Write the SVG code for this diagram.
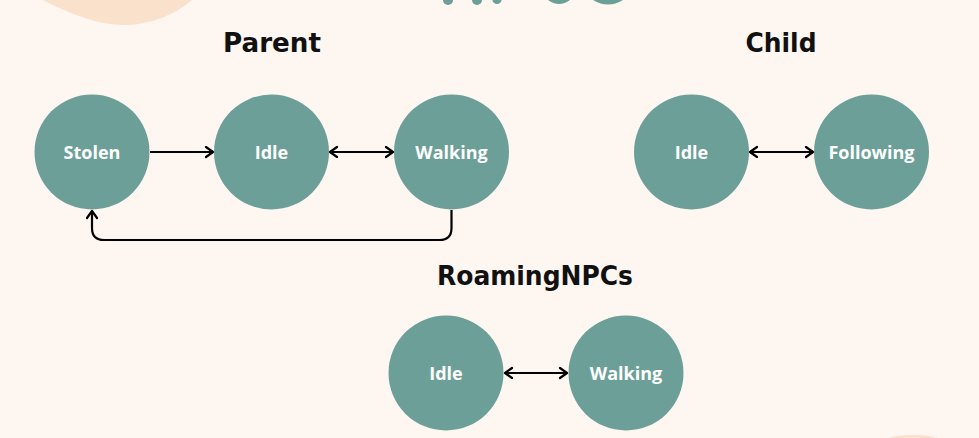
<svg xmlns="http://www.w3.org/2000/svg" width="979" height="438" viewBox="0 0 979 438">
<defs>
<style>
.node{fill:#6B9F97}
.lbl{font-family:"Open Sans","Liberation Sans",sans-serif;font-weight:700;font-size:18px;fill:#FFFFFF;text-anchor:middle}
.title{font-family:"DejaVu Sans","Liberation Sans",sans-serif;font-weight:700;font-size:27px;fill:#111111;text-anchor:middle}
.edge{fill:none;stroke:#000;stroke-width:2.2}
.deco{fill:#F9E1CB}
.frag{fill:#6B9F97}
</style>
<marker id="ah" markerUnits="userSpaceOnUse" markerWidth="12" markerHeight="14" refX="9" refY="6" orient="auto-start-reverse">
<path d="M2,1 L9,6 L2,11" fill="none" stroke="#000" stroke-width="2.2" stroke-linecap="round" stroke-linejoin="round"/>
</marker>
</defs>
<rect width="979" height="438" fill="#FEF6F1"/>
<path class="deco" d="M43,0 C70,14 100,26 127,25 C155,24 178,12 192,0 Z"/>
<ellipse class="deco" cx="913" cy="446" rx="36" ry="11"/>
<g id="title-fragment">
<ellipse class="frag" cx="448" cy="0" rx="5" ry="5"/>
<ellipse class="frag" cx="477" cy="0" rx="5" ry="5"/>
<ellipse class="frag" cx="497" cy="0" rx="4.5" ry="4"/>
<path class="frag" d="M548,0 Q559,8 570,0 Z"/>
<path class="frag" d="M593,0 Q608,9 623,0 Z"/>
</g>
<text class="title" x="272" y="52" textLength="98" lengthAdjust="spacingAndGlyphs">Parent</text>
<text class="title" x="781" y="52" textLength="71" lengthAdjust="spacingAndGlyphs">Child</text>
<text class="title" x="535" y="285" textLength="196" lengthAdjust="spacingAndGlyphs">RoamingNPCs</text>
<g id="connectors">
<line class="edge" x1="150" y1="152" x2="213" y2="152" marker-end="url(#ah)"/>
<line class="edge" x1="330" y1="152" x2="393" y2="152" marker-start="url(#ah)" marker-end="url(#ah)"/>
<line class="edge" x1="750" y1="152" x2="813" y2="152" marker-start="url(#ah)" marker-end="url(#ah)"/>
<line class="edge" x1="505" y1="373" x2="567" y2="373" marker-start="url(#ah)" marker-end="url(#ah)"/>
<path class="edge" d="M451.5,210 L451.5,228 Q451.5,240 439.5,240 L104,240 Q92,240 92,228 L92,211" marker-end="url(#ah)"/>
</g>
<g id="parent-stolen"><circle class="node" cx="92" cy="152" r="57.5"/><text class="lbl" x="92" y="159">Stolen</text></g>
<g id="parent-idle"><circle class="node" cx="271.5" cy="152" r="57.5"/><text class="lbl" x="271.5" y="159">Idle</text></g>
<g id="parent-walking"><circle class="node" cx="451.5" cy="152" r="57.5"/><text class="lbl" x="451.5" y="159">Walking</text></g>
<g id="child-idle"><circle class="node" cx="691.5" cy="152" r="57.5"/><text class="lbl" x="691.5" y="159">Idle</text></g>
<g id="child-following"><circle class="node" cx="871.5" cy="152" r="57.5"/><text class="lbl" x="871.5" y="159">Following</text></g>
<g id="roaming-idle"><circle class="node" cx="446" cy="373" r="57.5"/><text class="lbl" x="446" y="380">Idle</text></g>
<g id="roaming-walking"><circle class="node" cx="626" cy="373" r="57.5"/><text class="lbl" x="626" y="380">Walking</text></g>
</svg>
